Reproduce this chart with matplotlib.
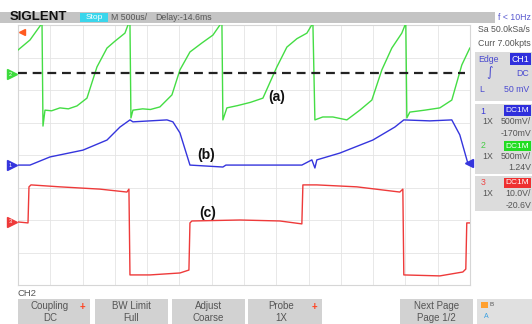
import matplotlib
matplotlib.use("Agg")
import matplotlib.pyplot as plt
from matplotlib.patches import Rectangle

plt.rcParams['font.family'] = ['Liberation Sans', 'DejaVu Sans']

W, H = 532, 324

# time in ms (500us/div, 14 div), levels in screen divisions from centre
green_t = [0, 0.186, 0.341, 0.372, 0.387, 0.418, 0.52, 0.650, 0.78, 0.913, 1.068, 1.223, 1.378, 1.50,
           1.656, 1.703, 1.734,
           1.749, 1.780, 1.93, 2.05, 2.198, 2.384, 2.508, 2.663, 2.85, 3.019, 3.127, 3.158,
           3.173, 3.235, 3.40, 3.60, 3.793, 4.009, 4.164, 4.32, 4.474, 4.567,
           4.598, 4.72, 4.876, 5.093, 5.294, 5.480, 5.635, 5.789, 5.944, 6.006,
           6.022, 6.068, 6.30, 6.533, 6.718, 6.873, 6.997]
green = [3.23, 3.54, 3.97, 4.06, 0.89, 1.38, 1.36, 1.45, 1.42, 1.51, 1.75, 2.71, 3.29, 3.50,
         3.75, 4.0, 4.03,
         1.14, 1.38, 1.42, 1.40, 1.48, 1.85, 2.62, 3.17, 3.45, 3.69, 4.0, 4.06,
         1.08, 1.45, 1.52, 1.62, 1.75, 2.71, 3.32, 3.58, 3.75, 4.06,
         1.08, 1.17, 1.17, 1.08, 1.38, 1.69, 2.62, 3.29, 3.75, 4.06,
         1.14, 1.32, 1.38, 1.45, 1.69, 2.77, 3.29]

blue_t = [0, 0.186, 0.495, 1.006, 1.378, 1.579, 1.734, 1.780, 2.043, 2.307, 2.399, 2.508, 2.663,
          3.173, 3.220, 4.396, 4.551, 4.598, 4.628, 4.985, 5.495, 5.836, 5.975, 6.378, 6.718,
          6.842, 6.966]
blue = [-0.31, -0.31, -0.06, 0.15, 0.46, 0.86, 1.08, 1.02, 1.05, 1.08, 1.02, 0.68, -0.31,
        -0.37, -0.31, -0.31, -0.15, -0.40, -0.15, 0.06, 0.46, 0.86, 1.08, 1.05, 1.08,
        0.62, -0.25]

red_t = [0, 0.155, 0.170, 0.201, 0.650, 1.269, 1.687, 1.718, 1.734, 2.043, 2.508, 2.647,
         2.663, 2.693, 3.437, 4.056, 4.396, 4.412, 4.628, 5.248, 5.913, 5.960, 5.975, 6.533,
         6.889, 6.935, 6.950, 6.997]
red = [-2.06, -2.09, -0.98, -0.92, -0.98, -1.05, -1.14, -1.05, -3.69, -3.69, -3.63, -3.54,
       -2.09, -2.03, -2.0, -2.03, -2.12, -0.92, -0.92, -0.98, -1.14, -1.05, -3.69, -3.72,
       -3.60, -3.51, -2.09, -2.09]

trig_level = 2.52
ch_marks = {'2': (2.48, '#3ddc3d'), '1': (-0.31, '#3535dd'), '3': (-2.06, '#ee3a3a')}

GREEN, BLUE, RED = '#44dd44', '#3535dd', '#ee3a3a'

fig = plt.figure(figsize=(W / 100, H / 100), dpi=100)
fig.patch.set_facecolor('white')


def px(x, y):
    return x / W, 1 - y / H


def box(x0, y0, x1, y1, color, ec='none'):
    fig.patches.append(Rectangle(px(x0, y1), (x1 - x0) / W, (y1 - y0) / H,
                                 transform=fig.transFigure, facecolor=color,
                                 edgecolor=ec, lw=0.5, zorder=0))


def txt(x, y, s, size=6.3, color='#555555', ha='left', **kw):
    fig.text(*px(x, y), s, fontsize=size, color=color, ha=ha, va='center', **kw)


ax = fig.add_axes([18 / W, (H - 285) / H, 452 / W, 260 / H])
ax.set_xlim(0, 7)
ax.set_ylim(-4, 4)
ax.set_xticks([i * 0.5 for i in range(15)])
ax.set_yticks(range(-4, 5))
ax.tick_params(length=0, labelbottom=False, labelleft=False)
ax.grid(True, color='#e4e4e4', lw=0.6)
for s in ax.spines.values():
    s.set_color('#d6d6d6')
    s.set_linewidth(0.8)

ax.plot(blue_t, blue, color=BLUE, lw=1.0, zorder=3)
ax.plot(red_t, red, color=RED, lw=1.0, zorder=3)
ax.plot(green_t, green, color=GREEN, lw=1.0, zorder=4)
ax.axhline(trig_level, xmin=0, xmax=0.99, color='#222222', lw=1.6, dashes=(4, 2.6), zorder=5)

# channel markers at the left edge
for name, (lvl, col) in ch_marks.items():
    ax.plot([-0.095], [lvl], marker='>', ms=6.5, color=col, clip_on=False, zorder=6)
    ax.text(-0.125, lvl, name, fontsize=4, color='white', ha='center', va='center',
            clip_on=False, zorder=7)
ax.plot([6.99], [-0.25], marker='<', ms=6, color=BLUE, clip_on=False, zorder=6)
ax.plot([0.06], [3.8], marker='<', ms=5, color='#ff5a1f', clip_on=False, zorder=6)

ax.text(4.0, 1.77, '(a)', fontsize=10, fontweight='bold', color='#111111', ha='center', va='center')
ax.text(2.91, 0.0, '(b)', fontsize=10, fontweight='bold', color='#111111', ha='center', va='center')
ax.text(2.93, -1.78, '(c)', fontsize=10, fontweight='bold', color='#111111', ha='center', va='center')

# header bar
box(0, 12, 495, 23, '#c4c4c4')
txt(10, 17.5, 'SIGLENT', size=9.5, color='#111111', fontweight='bold')
box(80, 13, 108, 22, '#3ad6ec')
txt(94, 17.5, 'Stop', size=6, color='white', ha='center')
txt(111, 17.5, 'M 500us/', size=6.3)
txt(155, 17.5, 'Delay:-14.6ms', size=6.3)
txt(531, 17.5, 'f < 10Hz', size=6.3, color='#5a5ad0', ha='right')

# right info panel
txt(478, 30, 'Sa 50.0kSa/s', size=6.3)
txt(478, 44, 'Curr 7.00kpts', size=6.3)
box(475, 52, 532, 101, '#dcdcdc')
txt(478, 59, 'Edge', color='#4a4ad0')
box(510, 53, 531, 65, '#2f2fdc')
txt(520.5, 59, 'CH1', color='white', ha='center')
txt(490, 73, r'$\mathregular{\int}$', color='#4a4ad0', ha='center')
txt(529, 73, 'DC', color='#4a4ad0', ha='right')
txt(479, 90, 'L', color='#4a4ad0')
txt(529, 90, '50 mV', color='#4a4ad0', ha='right')

panels = [(104, '1', '#3a3ad8', '#2f2fdc', '500mV/', '-170mV'),
          (139, '2', '#44cc44', '#22dd22', '500mV/', '1.24V'),
          (176, '3', '#ee4444', '#ee3030', '10.0V/', '-20.6V')]
for y0, num, ncol, bcol, scale, offs in panels:
    box(475, y0, 532, y0 + 35, '#dcdcdc')
    txt(483, y0 + 7, num, color=ncol, ha='center')
    box(504, y0 + 1.5, 531, y0 + 12, bcol)
    txt(517.5, y0 + 7, 'DC1M', color='white', ha='center', size=6)
    txt(482, y0 + 18, '1X', ha='left')
    txt(531, y0 + 18, scale, ha='right')
    txt(531, y0 + 29, offs, ha='right')

# bottom menu
txt(18, 293, 'CH2', size=6.8)
buttons = [(18, 90, 'Coupling', 'DC', True), (95, 168, 'BW Limit', 'Full', False),
           (172, 245, 'Adjust', 'Coarse', False), (248, 322, 'Probe', '1X', True),
           (400, 473, 'Next Page', 'Page 1/2', False)]
for x0, x1, top, bot, star in buttons:
    box(x0, 299, x1, 326, '#d2d2d2')
    txt((x0 + x1) / 2 - (4 if star else 0), 306, top, size=7, ha='center')
    txt((x0 + x1) / 2 - (4 if star else 0), 318, bot, size=7, ha='center')
    if star:
        txt(x1 - 8, 307, '+', size=7, color='#ff4422', ha='center', fontweight='bold')
box(477, 299, 532, 326, '#e0e0e0')
box(481, 302, 488, 308, '#ffa030')
txt(489, 305, 'B', size=4.5, color='#555555')
txt(484, 316, 'A', size=5, color='#3aa0e0')

fig.savefig('out.png', dpi=100)
